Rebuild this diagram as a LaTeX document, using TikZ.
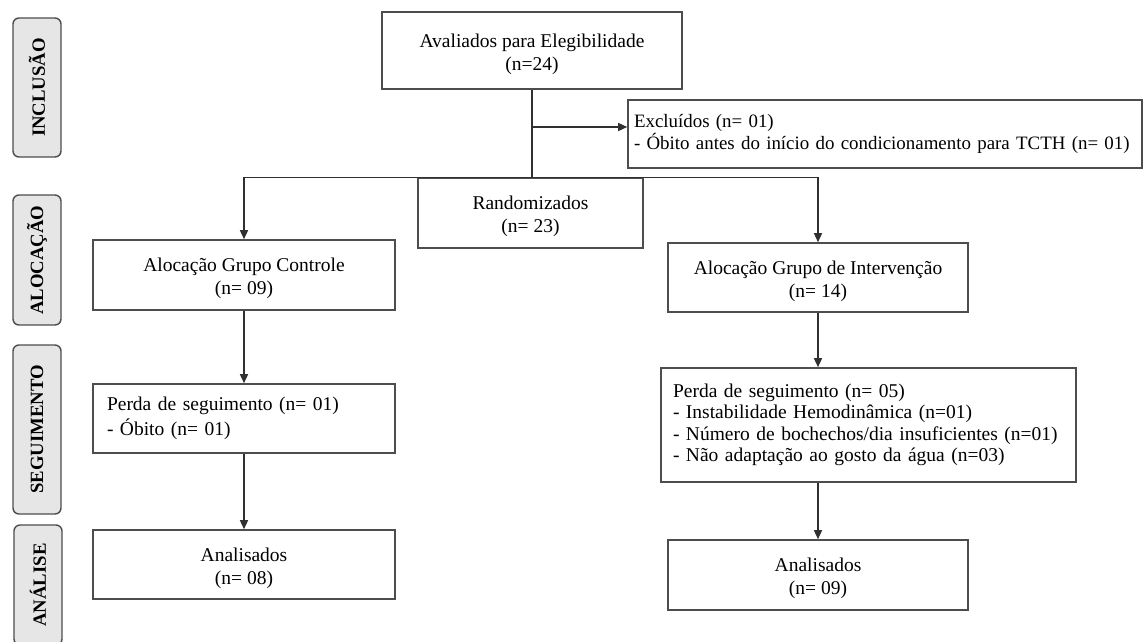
\documentclass[tikz,border=0pt]{standalone}
\usepackage{fontspec}
\setmainfont{Liberation Serif}
\usetikzlibrary{arrows.meta}

\definecolor{boxgray}{HTML}{4D4D4D}
\definecolor{linegray}{HTML}{303030}
\definecolor{stagefill}{HTML}{E6E6E6}

\begin{document}
\begin{tikzpicture}[x=1pt,y=-1pt,
  font=\fontsize{19.5}{23}\selectfont,
  box/.style={draw=boxgray,line width=1.6pt,inner sep=0pt,align=center,text height=44pt},
  listbox/.style={draw=boxgray,line width=1.6pt,inner xsep=12pt,inner ysep=0pt,align=left},
  stage/.style={draw=boxgray,fill=stagefill,line width=1.4pt,rounded corners=6pt,
    rotate=90,inner sep=0pt,font=\fontsize{18.7}{22}\selectfont\bfseries},
  link/.style={draw=linegray,line width=1.4pt},
  arr/.style={link,-{Triangle[length=9pt,width=8pt]}}]
\useasboundingbox (0,0) rectangle (1146,641);
\clip (0,0) rectangle (1146,641);

% fases
\node[stage,minimum width=139,minimum height=48] (incl) at (37,87.5) {INCLUSÃO};
\node[stage,minimum width=130,minimum height=48] (aloc) at (37,260) {ALOCAÇÃO};
\node[stage,minimum width=169,minimum height=48] (segu) at (37,429.5) {SEGUIMENTO};
\node[stage,minimum width=120,minimum height=48] (anal) at (38,585) {ANÁLISE};

% caixas
\node[box,minimum width=300,minimum height=77] (aval) at (532,50.5)
  {Avaliados para Elegibilidade\\(n=24)};
\node[listbox,inner xsep=6pt,text width=502,minimum height=68,
  font=\fontsize{18.9}{22.5}\selectfont] (excl) at (885,134)
  {Excluídos (n= 01)\\- Óbito antes do início do condicionamento para TCTH (n= 01)};
\node[box,minimum width=225,minimum height=70] (rand) at (530.5,213)
  {Randomizados\\(n= 23)};
\node[box,minimum width=302,minimum height=70] (ctrl) at (244,275)
  {Alocação Grupo Controle\\(n= 09)};
\node[box,minimum width=300,minimum height=69] (interv) at (818,277.5)
  {Alocação Grupo de Intervenção\\(n= 14)};
\node[listbox,inner xsep=14pt,text width=274,minimum height=69,
  font=\fontsize{19.5}{24.5}\selectfont] (perdaC) at (244,418.5)
  {Perda de seguimento (n= 01)\\- Óbito (n= 01)};
\node[listbox,text width=391,minimum height=114,font=\fontsize{19.5}{21.5}\selectfont] (perdaI) at (868.5,425)
  {Perda de seguimento (n= 05)\\- Instabilidade Hemodinâmica (n=01)\\- Número de bochechos/dia insuficientes (n=01)\\- Não adaptação ao gosto da água (n=03)};
\node[box,minimum width=302,minimum height=69] (analC) at (244,564.5)
  {Analisados\\(n= 08)};
\node[box,minimum width=300,minimum height=70] (analI) at (818,575)
  {Analisados\\(n= 09)};

% ligacoes
\coordinate (exclin) at (532,127);
\draw[link] (aval.south) -- (aval.south |- rand.north);
\draw[arr] (exclin) -- (exclin -| excl.west);
\draw[arr] (interv.north |- rand.north) -- (ctrl.north |- rand.north) -- (ctrl.north);
\draw[arr] (interv.north |- rand.north) -- (interv.north);
\draw[arr] (ctrl.south) -- (perdaC.north);
\draw[arr] (interv.south) -- (interv.south |- perdaI.north);
\draw[arr] (perdaC.south) -- (analC.north);
\draw[arr] (analI.north |- perdaI.south) -- (analI.north);
\end{tikzpicture}
\end{document}
